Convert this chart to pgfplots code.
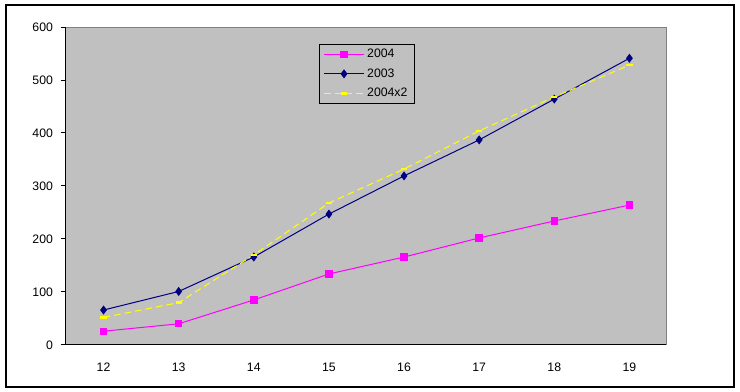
\documentclass[border=0pt]{standalone}
\usepackage{pgfplots}
\pgfplotsset{compat=1.18}
\usepackage{fontspec}
\setmainfont{Liberation Sans}
\definecolor{bgc}{RGB}{192,192,192}
\definecolor{navyc}{RGB}{0,0,128}
\definecolor{magc}{RGB}{255,0,255}
\definecolor{yelc}{RGB}{255,255,0}
\definecolor{edgec}{RGB}{128,128,128}
\begin{document}
\begin{tikzpicture}
\path[use as bounding box] (-49.5pt,-35.25pt) rectangle (505.5pt,258.75pt);
\draw[black, line width=0.8pt] (-45pt,-31.5pt) rectangle (501pt,255pt);
\begin{axis}[
  at={(0,0)}, anchor=south west,
  scale only axis, width=450.75pt, height=238.5pt,
  xmin=-0.5, xmax=7.5, ymin=0, ymax=600,
  axis x line*=bottom, axis y line*=left,
  axis line style={black, line width=0.75pt, -},
  axis background/.style={fill=bgc},
  tick align=outside,
  major tick length=3.75pt,
  every tick/.style={black, line width=0.75pt},
  ytick={0,100,...,600},
  xtick={0,...,7},
  xticklabels={12,13,14,15,16,17,18,19},
  major x tick style={draw=none},
  extra x ticks={0.5,1.5,...,6.5},
  extra x tick labels={},
  extra x tick style={major x tick style={black, line width=0.75pt}},
  tick label style={font=\fontsize{9.2}{11}\selectfont},
  /pgf/number format/assume math mode=true,
  xticklabel style={yshift=-6.5pt},
  yticklabel style={xshift=-2.5pt},
  legend style={at={(0.421,0.9465)}, anchor=north west, fill=bgc, draw=black, line width=0.75pt,
    font=\fontsize{9.2}{11}\selectfont, inner xsep=3pt, inner ysep=1.5pt, row sep=2.6pt,
    /tikz/every even column/.append style={column sep=2pt}},
  legend cell align=left,
  legend image code/.code={
    \draw[#1] (0pt,0pt) -- (15pt,0pt) -- (30pt,0pt);
    \draw[#1, draw=none] plot coordinates {(15pt,0pt)};
  },
]
\addplot[magc, line width=0.75pt, mark=square*, mark size=2.4pt, mark options={solid, fill=magc, draw=magc}]
  coordinates {(0,26) (1,40) (2,85) (3,134) (4,166) (5,202) (6,234) (7,264)};
\addlegendentry{2004}
\addplot[navyc, line width=0.75pt, mark=diamond*, mark size=2.8pt, mark options={solid, fill=navyc, draw=navyc}]
  coordinates {(0,66) (1,101) (2,166) (3,247) (4,319) (5,387) (6,464) (7,541)};
\addlegendentry{2003}
\addplot[yelc, line width=0.75pt, dash pattern=on 5pt off 3pt, mark=-, mark size=2.3pt, mark options={solid, line width=2pt, draw=yelc}]
  coordinates {(0,52) (1,80) (2,170) (3,268) (4,332) (5,404) (6,468) (7,528)};
\addlegendentry{2004x2}
\draw[edgec, line width=0.75pt] (rel axis cs:0,1) -- (rel axis cs:1,1) -- (rel axis cs:1,0);
\end{axis}
\end{tikzpicture}
\end{document}
